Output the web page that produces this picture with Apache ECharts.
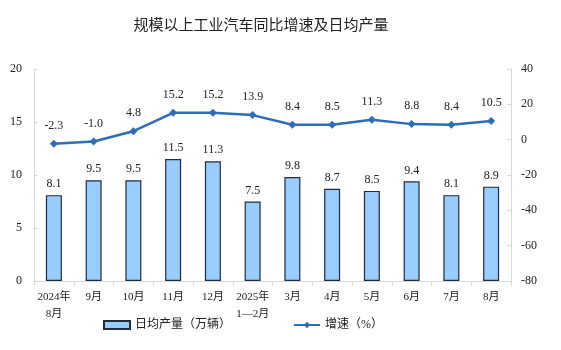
<!DOCTYPE html>
<html><head><meta charset="utf-8">
<script src="https://cdn.jsdelivr.net/npm/echarts@6/dist/echarts.min.js"></script>
<style>html,body{margin:0;padding:0;background:#fff}#c{width:561px;height:350px}</style>
</head><body><div id="c"></div>
<script>
const categories = ['2024年\n8月','9月','10月','11月','12月','2025年\n1—2月','3月','4月','5月','6月','7月','8月'];
const dailyOutput = [8.1,9.5,9.5,11.5,11.3,7.5,9.8,8.7,8.5,9.4,8.1,8.9];
const growth = [-2.3,-1.0,4.8,15.2,15.2,13.9,8.4,8.5,11.3,8.8,8.4,10.5];
const titleText = '规模以上工业汽车同比增速及日均产量';
const barName = '日均产量（万辆）';
const lineName = '增速（%）';

const serif = '"Liberation Serif","Times New Roman","Noto Sans CJK SC",serif';
const chart = echarts.init(document.getElementById('c'));
chart.setOption({
  animation:false,
  title:{text:titleText,left:256,top:12,textAlign:'center',textStyle:{fontFamily:'"Noto Sans CJK SC",sans-serif',fontSize:15,fontWeight:'normal',color:'#222'}},
  grid:{left:34,right:50,top:69,bottom:69},
  legend:{
    bottom:14,left:98,itemGap:62,itemWidth:26,itemHeight:8,
    textStyle:{fontFamily:serif,fontSize:12,color:'#222'},
    data:[{name:barName,icon:'rect'},{name:lineName}]
  },
  xAxis:{type:'category',data:categories,
    axisLine:{lineStyle:{color:'#d9d9d9'}},
    axisTick:{show:true,lineStyle:{color:'#d9d9d9'}},
    axisLabel:{interval:0,fontFamily:serif,fontSize:11,color:'#222',lineHeight:17,margin:8}},
  yAxis:[
    {type:'value',min:0,max:20,interval:5,
     axisLine:{show:true,lineStyle:{color:'#d9d9d9'}},axisTick:{show:true,length:4,inside:true,lineStyle:{color:'#d9d9d9'}},
     splitLine:{show:false},axisLabel:{fontFamily:serif,fontSize:12,color:'#222',margin:12}},
    {type:'value',min:-80,max:40,interval:20,
     axisLine:{show:true,lineStyle:{color:'#d9d9d9'}},axisTick:{show:true,length:4,inside:true,lineStyle:{color:'#d9d9d9'}},
     splitLine:{show:false},axisLabel:{fontFamily:serif,fontSize:12,color:'#222',margin:10}}
  ],
  series:[
    {name:barName,type:'bar',data:dailyOutput,barWidth:16,
     itemStyle:{color:'#99ccff',borderColor:'#1f2d3d',borderWidth:1.2},
     label:{show:true,position:'top',distance:5,fontFamily:serif,fontSize:12,color:'#222',formatter:p=>p.value.toFixed(1)}},
    {name:lineName,type:'line',yAxisIndex:1,data:growth,symbol:'diamond',symbolSize:8,
     lineStyle:{color:'#2f6db5',width:2.5},itemStyle:{color:'#2f6db5'},
     label:{show:true,position:'top',distance:8,fontFamily:serif,fontSize:12,color:'#222',formatter:p=>p.value.toFixed(1)}}
  ]
});
</script></body></html>
